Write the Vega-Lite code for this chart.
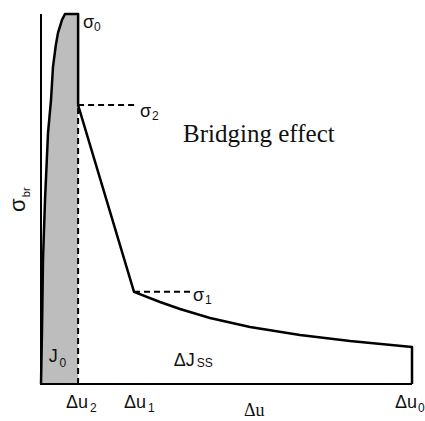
{
  "$schema": "https://vega.github.io/schema/vega-lite/v6.json",
  "width": 371,
  "height": 370,
  "autosize": {"type": "none"},
  "padding": {"left": 41, "top": 14, "right": 13, "bottom": 37},
  "background": "white",
  "config": {"view": {"stroke": null}},
  "datasets": {
    "fill": [
      {"u": 0, "s": 0}, {"u": 0.027, "s": 1.46}, {"u": 0.054, "s": 3.35}, {"u": 0.108, "s": 4.97},
      {"u": 0.189, "s": 6.78}, {"u": 0.27, "s": 7.68}, {"u": 0.323, "s": 8.57}, {"u": 0.40, "s": 9.16},
      {"u": 0.458, "s": 9.49}, {"u": 0.566, "s": 9.84}, {"u": 0.647, "s": 10}, {"u": 1.0, "s": 10}
    ],
    "curve": [
      {"i": 1, "u": 0, "s": 0}, {"i": 2, "u": 0.027, "s": 1.46}, {"i": 3, "u": 0.054, "s": 3.35},
      {"i": 4, "u": 0.108, "s": 4.97}, {"i": 5, "u": 0.189, "s": 6.78}, {"i": 6, "u": 0.27, "s": 7.68},
      {"i": 7, "u": 0.323, "s": 8.57}, {"i": 8, "u": 0.40, "s": 9.16}, {"i": 9, "u": 0.458, "s": 9.49},
      {"i": 10, "u": 0.566, "s": 9.84}, {"i": 11, "u": 0.647, "s": 10}, {"i": 12, "u": 1.0, "s": 10},
      {"i": 13, "u": 1.0, "s": 7.54}, {"i": 14, "u": 2.507, "s": 2.49}, {"i": 15, "u": 3.208, "s": 2.216},
      {"i": 16, "u": 3.747, "s": 2.027}, {"i": 17, "u": 4.555, "s": 1.784}, {"i": 18, "u": 5.633, "s": 1.54},
      {"i": 19, "u": 6.98, "s": 1.324}, {"i": 20, "u": 8.33, "s": 1.162}, {"i": 21, "u": 10, "s": 1.0},
      {"i": 22, "u": 10, "s": 0}
    ],
    "frame": [
      {"i": 1, "u": 0, "s": 10}, {"i": 2, "u": 0, "s": 0}, {"i": 3, "u": 10, "s": 0}
    ],
    "dashes": [
      {"u": 1.0, "s": 0, "u2": 1.0, "s2": 7.54},
      {"u": 1.0, "s": 7.54, "u2": 2.53, "s2": 7.54},
      {"u": 2.507, "s": 2.49, "u2": 4.02, "s2": 2.49}
    ],
    "mainLabels": [
      {"text": "Δu", "u": 0.674, "s": -0.65},
      {"text": "Δu", "u": 2.237, "s": -0.65},
      {"text": "Δu", "u": 9.54, "s": -0.65},
      {"text": "σ", "u": 1.13, "s": 9.62},
      {"text": "σ", "u": 2.67, "s": 7.22},
      {"text": "σ", "u": 4.10, "s": 2.24},
      {"text": "J", "u": 0.21, "s": 0.59},
      {"text": "ΔJ", "u": 3.58, "s": 0.49}
    ],
    "subLabels": [
      {"text": "2", "u": 1.32, "s": -0.76},
      {"text": "1", "u": 2.884, "s": -0.76},
      {"text": "0", "u": 10.16, "s": -0.76},
      {"text": "0", "u": 1.43, "s": 9.54},
      {"text": "2", "u": 2.99, "s": 7.14},
      {"text": "1", "u": 4.42, "s": 2.16},
      {"text": "0", "u": 0.50, "s": 0.46},
      {"text": "SS", "u": 4.20, "s": 0.46}
    ]
  },
  "encoding": {
    "x": {"field": "u", "type": "quantitative", "scale": {"domain": [0, 10], "nice": false, "zero": false}, "axis": null},
    "y": {"field": "s", "type": "quantitative", "scale": {"domain": [0, 10], "nice": false, "zero": false}, "axis": null}
  },
  "layer": [
    {
      "data": {"name": "fill"},
      "mark": {"type": "area", "color": "#bdbdbd", "clip": false}
    },
    {
      "data": {"name": "dashes"},
      "mark": {"type": "rule", "color": "black", "strokeWidth": 2, "strokeDash": [6, 4], "clip": false},
      "encoding": {
        "x2": {"field": "u2"},
        "y2": {"field": "s2"}
      }
    },
    {
      "data": {"name": "frame"},
      "mark": {"type": "line", "color": "black", "strokeWidth": 2, "clip": false},
      "encoding": {"order": {"field": "i", "type": "quantitative"}}
    },
    {
      "data": {"name": "curve"},
      "mark": {"type": "line", "color": "black", "strokeWidth": 2.5, "strokeJoin": "round", "clip": false},
      "encoding": {"order": {"field": "i", "type": "quantitative"}}
    },
    {
      "data": {"name": "mainLabels"},
      "mark": {"type": "text", "align": "left", "baseline": "alphabetic", "font": "Liberation Sans", "fontSize": 18, "color": "#111"},
      "encoding": {"text": {"field": "text"}}
    },
    {
      "data": {"name": "subLabels"},
      "mark": {"type": "text", "align": "left", "baseline": "alphabetic", "font": "Liberation Sans", "fontSize": 12, "color": "#111"},
      "encoding": {"text": {"field": "text"}}
    },
    {
      "data": {"values": [{"text": "Bridging effect", "u": 3.83, "s": 6.54}]},
      "mark": {"type": "text", "align": "left", "baseline": "alphabetic", "font": "Liberation Serif", "fontSize": 25, "color": "#111"},
      "encoding": {"text": {"field": "text"}}
    },
    {
      "data": {"values": [{"text": "Δu", "u": 5.47, "s": -0.87}]},
      "mark": {"type": "text", "align": "left", "baseline": "alphabetic", "font": "Liberation Serif", "fontSize": 18, "color": "#111"},
      "encoding": {"text": {"field": "text"}}
    },
    {
      "data": {"values": [{"text": "σ", "u": -0.431, "s": 4.65}]},
      "mark": {"type": "text", "align": "left", "baseline": "alphabetic", "angle": 270, "font": "Liberation Sans", "fontSize": 22, "color": "#111"},
      "encoding": {"text": {"field": "text"}}
    },
    {
      "data": {"values": [{"text": "br", "u": -0.296, "s": 5.05}]},
      "mark": {"type": "text", "align": "left", "baseline": "alphabetic", "angle": 270, "font": "Liberation Sans", "fontSize": 11, "color": "#111"},
      "encoding": {"text": {"field": "text"}}
    }
  ]
}
